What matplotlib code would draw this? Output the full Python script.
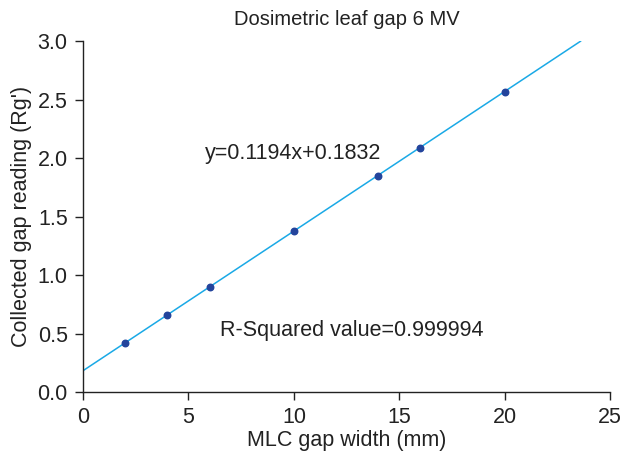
import numpy as np
import matplotlib.pyplot as plt

plt.rcParams['font.family'] = ['Liberation Sans', 'DejaVu Sans']

# --- data ---
gap_width = [2, 4, 6, 10, 14, 16, 20]
reading = [0.42, 0.66, 0.90, 1.38, 1.85, 2.09, 2.57]
slope = 0.1194
intercept = 0.1832
fit_x = [0, 23.59]
# ------------

fig = plt.figure(figsize=(6.24, 4.63), dpi=100)
ax = fig.add_axes([0.133, 0.153, 0.845, 0.758])

fx = np.array(fit_x)
ax.plot(fx, slope * fx + intercept, color='#1aa9e6', lw=1.1, zorder=2)
ax.scatter(gap_width, reading, s=22, color='#23449c', zorder=3)

ax.set_xlim(0, 25)
ax.set_ylim(0, 3.0)
ax.set_xticks([0, 5, 10, 15, 20, 25])
ax.set_yticks(np.arange(0, 3.01, 0.5))
ax.yaxis.set_major_formatter(plt.FormatStrFormatter('%.1f'))

for s in ['top', 'right']:
    ax.spines[s].set_visible(False)
for s in ['left', 'bottom']:
    ax.spines[s].set_linewidth(1.0)
    ax.spines[s].set_color('#222222')
ax.tick_params(direction='out', length=6, width=1.0, colors='#222222',
               labelsize=15.5, pad=5)

ax.set_title('Dosimetric leaf gap 6 MV', fontsize=14.5, pad=12, color='#222222')
ax.set_xlabel('MLC gap width (mm)', fontsize=15.5, labelpad=1, color='#222222')
ax.set_ylabel("Collected gap reading (Rg')", fontsize=15.5, labelpad=4, color='#222222')

ax.text(5.8, 2.04, 'y=0.1194x+0.1832', fontsize=15.5, va='center', ha='left', color='#222222')
ax.text(6.5, 0.53, 'R-Squared value=0.999994', fontsize=15.5, va='center', ha='left', color='#222222')

fig.savefig('out.png', dpi=100)
